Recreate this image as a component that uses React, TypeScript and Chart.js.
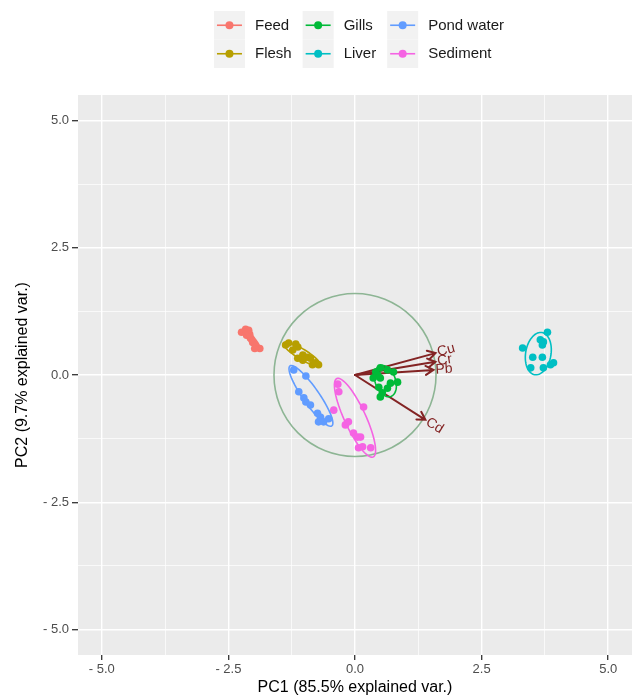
import { useEffect, useRef } from "react";
import { Chart, registerables } from "chart.js";
Chart.register(...registerables);

// ---------- data ----------
const groups = ["Feed", "Flesh", "Gills", "Liver", "Pond water", "Sediment"];
const groupColors = ["#F8766D", "#B79F00", "#00BA38", "#00BFC4", "#619CFF", "#F564E3"];

const feedPC1 = [-2.24, -2.16, -2.10, -2.14, -2.06, -2.02, -1.96, -1.88, -1.98, -2.08];
const feedPC2 = [0.84, 0.90, 0.88, 0.78, 0.72, 0.64, 0.58, 0.52, 0.52, 0.80];

const fleshPC1 = [-1.37, -1.31, -1.17, -1.13, -1.23, -1.03, -0.94, -0.88, -1.03, -0.78, -0.72, -0.84, -1.13];
const fleshPC2 = [0.59, 0.63, 0.61, 0.55, 0.49, 0.39, 0.35, 0.33, 0.29, 0.24, 0.20, 0.20, 0.33];

const gillsPC1 = [0.41, 0.50, 0.64, 0.76, 0.84, 0.70, 0.50, 0.47, 0.54, 0.50, 0.64, 0.45, 0.36];
const gillsPC2 = [0.06, 0.14, 0.10, 0.06, -0.14, -0.16, -0.06, -0.24, -0.35, -0.43, -0.26, 0.00, -0.06];

const liverPC1 = [3.80, 3.66, 3.72, 3.70, 3.31, 3.51, 3.70, 3.47, 3.72, 3.86, 3.92];
const liverPC2 = [0.84, 0.69, 0.65, 0.59, 0.53, 0.35, 0.35, 0.14, 0.14, 0.20, 0.24];

const pondPC1 = [-1.21, -0.97, -1.11, -1.01, -0.97, -0.88, -0.74, -0.68, -0.62, -0.52, -0.72];
const pondPC2 = [0.10, -0.02, -0.33, -0.45, -0.53, -0.59, -0.75, -0.83, -0.92, -0.86, -0.92];

const sedimentPC1 = [-0.34, -0.32, -0.42, 0.17, -0.13, -0.19, -0.03, 0.05, 0.11, 0.07, 0.31, 0.15];
const sedimentPC2 = [-0.18, -0.33, -0.69, -0.63, -0.92, -0.98, -1.14, -1.22, -1.22, -1.43, -1.43, -1.41];

// normal-data ellipses (centre, semi-axes, rotation in degrees), one per group
const ellipseCX = [-2.05, -1.05, 0.60, 3.62, -0.87, 0.00];
const ellipseCY = [0.71, 0.41, -0.12, 0.42, -0.41, -0.84];
const ellipseA = [0.25, 0.42, 0.32, 0.42, 0.72, 0.85];
const ellipseB = [0.06, 0.10, 0.20, 0.25, 0.16, 0.21];
const ellipseAngle = [-50, -31, -70, 80, -55, -65];

// variable loadings
const loadingNames = ["Cu", "Cr", "Pb", "Cd"];
const loadingPC1 = [1.59, 1.59, 1.55, 1.39];
const loadingPC2 = [0.43, 0.26, 0.10, -0.88];
const circleRadius = 1.6;

const tickValues = [-5, -3.75, -2.5, -1.25, 0, 1.25, 2.5, 3.75, 5];

const seriesPC1 = [feedPC1, fleshPC1, gillsPC1, liverPC1, pondPC1, sedimentPC1];
const seriesPC2 = [feedPC2, fleshPC2, gillsPC2, liverPC2, pondPC2, sedimentPC2];

// ---------- helpers ----------
const FONT = "'Liberation Sans', Arial, sans-serif";
const isMajor = (v: number) => Math.abs(v / 2.5 - Math.round(v / 2.5)) < 1e-6;
const fmt = (v: number) => (v < 0 ? "- " + Math.abs(v).toFixed(1) : v.toFixed(1));

const decorPlugin = {
  id: "pcaDecor",
  beforeDraw(chart: any) {
    const { ctx, chartArea: a } = chart;
    ctx.save();
    ctx.fillStyle = "#FFFFFF";
    ctx.fillRect(0, 0, chart.width, chart.height);
    ctx.fillStyle = "#EBEBEB";
    ctx.fillRect(a.left, a.top, a.right - a.left, a.bottom - a.top);
    ctx.restore();
  },
  beforeDatasetsDraw(chart: any) {
    const { ctx } = chart;
    const xs = chart.scales.x;
    const ys = chart.scales.y;
    const x0 = xs.getPixelForValue(0);
    const y0 = ys.getPixelForValue(0);
    ctx.save();
    // correlation circle
    ctx.strokeStyle = "#8DB594";
    ctx.lineWidth = 1.6;
    ctx.beginPath();
    ctx.ellipse(
      x0,
      y0,
      Math.abs(xs.getPixelForValue(circleRadius) - x0),
      Math.abs(ys.getPixelForValue(circleRadius) - y0),
      0,
      0,
      Math.PI * 2
    );
    ctx.stroke();
    // arrows
    ctx.strokeStyle = "#832424";
    ctx.lineWidth = 2;
    ctx.lineCap = "round";
    for (let i = 0; i < loadingNames.length; i++) {
      const x1 = xs.getPixelForValue(loadingPC1[i]);
      const y1 = ys.getPixelForValue(loadingPC2[i]);
      const ang = Math.atan2(y1 - y0, x1 - x0);
      const h = 9;
      ctx.beginPath();
      ctx.moveTo(x0, y0);
      ctx.lineTo(x1, y1);
      ctx.moveTo(x1 - h * Math.cos(ang - Math.PI / 6), y1 - h * Math.sin(ang - Math.PI / 6));
      ctx.lineTo(x1, y1);
      ctx.lineTo(x1 - h * Math.cos(ang + Math.PI / 6), y1 - h * Math.sin(ang + Math.PI / 6));
      ctx.stroke();
    }
    ctx.restore();
  },
  afterDatasetsDraw(chart: any) {
    const { ctx } = chart;
    const xs = chart.scales.x;
    const ys = chart.scales.y;
    ctx.save();
    // ellipses
    ctx.lineWidth = 1.6;
    for (let g = 0; g < groups.length; g++) {
      const th = (ellipseAngle[g] * Math.PI) / 180;
      ctx.strokeStyle = groupColors[g];
      ctx.beginPath();
      for (let k = 0; k <= 72; k++) {
        const t = (k / 72) * Math.PI * 2;
        const dx = ellipseA[g] * Math.cos(t) * Math.cos(th) - ellipseB[g] * Math.sin(t) * Math.sin(th);
        const dy = ellipseA[g] * Math.cos(t) * Math.sin(th) + ellipseB[g] * Math.sin(t) * Math.cos(th);
        const px = xs.getPixelForValue(ellipseCX[g] + dx);
        const py = ys.getPixelForValue(ellipseCY[g] + dy);
        if (k === 0) ctx.moveTo(px, py);
        else ctx.lineTo(px, py);
      }
      ctx.stroke();
    }
    // loading labels
    const x0 = xs.getPixelForValue(0);
    const y0 = ys.getPixelForValue(0);
    ctx.fillStyle = "#832424";
    ctx.font = `14px ${FONT}`;
    ctx.textAlign = "left";
    ctx.textBaseline = "middle";
    for (let i = 0; i < loadingNames.length; i++) {
      const x1 = xs.getPixelForValue(loadingPC1[i]);
      const y1 = ys.getPixelForValue(loadingPC2[i]);
      const ang = Math.atan2(y1 - y0, x1 - x0);
      ctx.save();
      ctx.translate(x1, y1);
      ctx.rotate(ang);
      ctx.fillText(loadingNames[i], 2, 0);
      ctx.restore();
    }
    ctx.restore();
  },
  afterDraw(chart: any) {
    const { ctx } = chart;
    ctx.save();
    ctx.font = `15px ${FONT}`;
    const keyW = 31;
    const keyH = 28.5;
    const gap = 10;
    const colGap = 11;
    const top = 11;
    const cols: number[][] = [];
    for (let c = 0; c < groups.length; c += 2) cols.push([c, c + 1]);
    const widths = cols.map(
      (col) => keyW + gap + Math.max(...col.map((g) => ctx.measureText(groups[g]).width))
    );
    const total = widths.reduce((s, w) => s + w, 0) + colGap * (cols.length - 1);
    let x = 359 - total / 2;
    cols.forEach((col, ci) => {
      col.forEach((g, r) => {
        const y = top + r * keyH;
        ctx.fillStyle = "#F2F2F2";
        ctx.fillRect(x, y, keyW, keyH);
        const cy = y + keyH / 2;
        ctx.strokeStyle = groupColors[g];
        ctx.lineWidth = 1.6;
        ctx.beginPath();
        ctx.moveTo(x + 3, cy);
        ctx.lineTo(x + keyW - 3, cy);
        ctx.stroke();
        ctx.fillStyle = groupColors[g];
        ctx.beginPath();
        ctx.arc(x + keyW / 2, cy, 4, 0, Math.PI * 2);
        ctx.fill();
        ctx.fillStyle = "#1A1A1A";
        ctx.textAlign = "left";
        ctx.textBaseline = "middle";
        ctx.fillText(groups[g], x + keyW + gap, cy + 0.5);
      });
      x += widths[ci] + colGap;
    });
    ctx.restore();
  },
};

export default function App() {
  const ref = useRef<HTMLCanvasElement | null>(null);

  useEffect(() => {
    if (!ref.current) return;
    const datasets = groups.map((name, g) => ({
      label: name,
      data: seriesPC1[g].map((v, i) => ({ x: v, y: seriesPC2[g][i] })),
      backgroundColor: groupColors[g],
      borderColor: groupColors[g],
      pointRadius: 3.8,
      pointBorderWidth: 0,
      showLine: false,
    }));

    const makeGrid = (len: number) => ({
      color: "#FFFFFF",
      lineWidth: (c: any) => (c.tick && isMajor(c.tick.value) ? 1.4 : 0.7),
      tickColor: (c: any) => (c.tick && isMajor(c.tick.value) ? "#333333" : "rgba(0,0,0,0)"),
      tickLength: len,
      tickWidth: 1.3,
      drawTicks: true,
    });
    const makeTicks = (pad: number) => ({
      autoSkip: false,
      maxRotation: 0,
      padding: pad,
      color: "#4D4D4D",
      font: { size: 13, family: FONT },
      callback: (v: any) => (isMajor(Number(v)) ? fmt(Number(v)) : ""),
    });

    const chart = new Chart(ref.current, {
      type: "scatter",
      data: { datasets },
      options: {
        responsive: false,
        animation: false,
        devicePixelRatio: 1,
        layout: { autoPadding: false, padding: { top: 95, left: 0, right: 0, bottom: 0 } },
        plugins: { legend: { display: false }, tooltip: { enabled: false } },
        scales: {
          x: {
            type: "linear",
            min: -5.47,
            max: 5.47,
            border: { display: false },
            grid: makeGrid(5),
            ticks: makeTicks(2),
            afterBuildTicks: (s: any) => {
              s.ticks = tickValues.map((v) => ({ value: v }));
            },
            afterFit: (s: any) => {
              s.height = 44;
            },
            title: {
              display: true,
              text: "PC1 (85.5% explained var.)",
              color: "#000000",
              font: { size: 16, family: FONT },
              padding: { top: 0, bottom: 2 },
            },
          },
          y: {
            type: "linear",
            min: -5.5,
            max: 5.5,
            border: { display: false },
            grid: makeGrid(6),
            ticks: makeTicks(3),
            afterBuildTicks: (s: any) => {
              s.ticks = tickValues.map((v) => ({ value: v }));
            },
            afterFit: (s: any) => {
              s.width = 78;
            },
            title: {
              display: true,
              text: "PC2 (9.7% explained var.)",
              color: "#000000",
              font: { size: 16, family: FONT },
              padding: { top: 13, bottom: 0 },
            },
          },
        },
      },
      plugins: [decorPlugin],
    } as any);
    return () => chart.destroy();
  }, []);

  return (
    <div style={{ position: "fixed", left: 0, top: 0, width: 632, height: 699, background: "#fff" }}>
      <canvas ref={ref} width={632} height={699} style={{ display: "block", width: 632, height: 699 }} />
    </div>
  );
}
